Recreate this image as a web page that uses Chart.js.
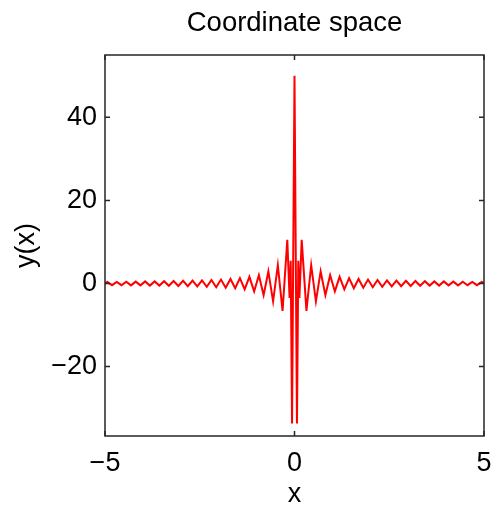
<!DOCTYPE html>
<html>
<head>
<meta charset="utf-8">
<script src="https://cdn.jsdelivr.net/npm/chart.js@4"></script>
<style>
  html, body { margin: 0; padding: 0; background: #fff; }
  #wrap { width: 493px; height: 507px; }
</style>
</head>
<body>
<div id="wrap"><canvas id="chart"></canvas></div>
<script>
// Signal: peaks and troughs, left to right
const xValues = [
  -5.0, -4.94, -4.815, -4.69, -4.565, -4.44, -4.315, -4.19, -4.065, -3.94,
  -3.815, -3.69, -3.565, -3.44, -3.315, -3.19, -3.065, -2.94, -2.815, -2.69,
  -2.565, -2.44, -2.315, -2.19, -2.065, -1.94, -1.815, -1.69, -1.565, -1.44,
  -1.315, -1.19, -1.065, -0.94, -0.815, -0.69, -0.565, -0.44, -0.315, -0.19,
  -0.13, -0.1, -0.065, 0,
  0.065, 0.1, 0.13, 0.19, 0.315, 0.44, 0.565, 0.69, 0.815, 0.94,
  1.065, 1.19, 1.315, 1.44, 1.565, 1.69, 1.815, 1.94, 2.065, 2.19,
  2.315, 2.44, 2.565, 2.69, 2.815, 2.94, 3.065, 3.19, 3.315, 3.44,
  3.565, 3.69, 3.815, 3.94, 4.065, 4.19, 4.315, 4.44, 4.565, 4.69,
  4.815, 4.94, 5.0
];
const yValues = [
  0.1, 0.4, -0.4, 0.4, -0.4, 0.45, -0.45, 0.45, -0.45, 0.5,
  -0.5, 0.5, -0.5, 0.55, -0.55, 0.6, -0.6, 0.65, -0.65, 0.7,
  -0.7, 0.75, -0.8, 0.85, -0.9, 0.95, -1.0, 1.1, -1.15, 1.3,
  -1.4, 1.6, -1.9, 2.0, -2.8, 2.9, -4.3, 4.4, -6.6, 10.5,
  -3.5, 5.5, -33.7, 50,
  -33.7, 5.5, -3.5, 10.5, -6.6, 4.4, -4.3, 2.9, -2.8, 2.0,
  -1.9, 1.6, -1.4, 1.3, -1.15, 1.1, -1.0, 0.95, -0.9, 0.85,
  -0.8, 0.75, -0.7, 0.7, -0.65, 0.65, -0.6, 0.6, -0.55, 0.55,
  -0.5, 0.5, -0.5, 0.5, -0.45, 0.45, -0.45, 0.45, -0.4, 0.4,
  -0.4, 0.4, 0.1
];
const xTicks = [-5, 0, 5];
const yTicks = [-20, 0, 20, 40];

const fontFamily = "'Liberation Sans', Arial, Helvetica, sans-serif";
const textColor = "#000";
const minusSign = (v) => String(v).replace("-", "\u2212");

// MATLAB-style box with inward ticks
const frameTicks = {
  id: "frameTicks",
  afterDraw(chart) {
    const { ctx, chartArea: a, scales } = chart;
    const len = 5;
    ctx.save();
    ctx.strokeStyle = "#262626";
    ctx.lineWidth = 1.5;
    ctx.strokeRect(a.left, a.top, a.right - a.left, a.bottom - a.top);
    ctx.beginPath();
    xTicks.forEach((v) => {
      const px = scales.x.getPixelForValue(v);
      ctx.moveTo(px, a.bottom);
      ctx.lineTo(px, a.bottom - len);
      ctx.moveTo(px, a.top);
      ctx.lineTo(px, a.top + len);
    });
    yTicks.forEach((v) => {
      const py = scales.y.getPixelForValue(v);
      ctx.moveTo(a.left, py);
      ctx.lineTo(a.left + len, py);
      ctx.moveTo(a.right, py);
      ctx.lineTo(a.right - len, py);
    });
    ctx.stroke();
    ctx.restore();
  },
};

const fixPadding = (s) => {
  s.paddingLeft = 0;
  s.paddingRight = 9;
};

const ctx = document.getElementById("chart").getContext("2d");
new Chart(ctx, {
  type: "line",
  data: {
    datasets: [
      {
        data: xValues.map((x, i) => ({ x: x, y: yValues[i] })),
        borderColor: "#ff0000",
        borderWidth: 2,
        pointRadius: 0,
        tension: 0,
        fill: false,
      },
    ],
  },
  options: {
    responsive: true,
    maintainAspectRatio: false,
    animation: false,
    layout: { padding: { left: 0, right: 0, top: 0, bottom: 0 } },
    plugins: {
      legend: { display: false },
      tooltip: { enabled: false },
    },
    scales: {
      x: {
        type: "linear",
        min: -5,
        max: 5,
        afterBuildTicks: (s) => { s.ticks = xTicks.map((v) => ({ value: v })); },
        afterFit: (s) => { s.height = 71; fixPadding(s); },
        grid: { display: false, drawTicks: false },
        border: { display: false },
        ticks: {
          padding: 11,
          color: textColor,
          maxRotation: 0,
          font: { family: fontFamily, size: 27 },
          callback: minusSign,
        },
        title: {
          display: true,
          text: "x",
          color: textColor,
          font: { family: fontFamily, size: 27 },
          padding: { top: 0, bottom: -4 },
        },
      },
      // top axis only carries the title, so it centres over the plot box
      x2: {
        type: "linear",
        position: "top",
        min: -5,
        max: 5,
        afterFit: (s) => { s.height = 55; fixPadding(s); },
        grid: { display: false, drawTicks: false },
        border: { display: false },
        ticks: { display: false },
        title: {
          display: true,
          text: "Coordinate space",
          color: textColor,
          font: { family: fontFamily, size: 27.5 },
          padding: { top: 7, bottom: 0 },
        },
      },
      y: {
        type: "linear",
        min: -36.7,
        max: 55,
        afterBuildTicks: (s) => { s.ticks = yTicks.map((v) => ({ value: v })); },
        afterFit: (s) => { s.width = 105; s.paddingTop = 0; s.paddingBottom = 0; },
        grid: { display: false, drawTicks: false },
        border: { display: false },
        ticks: {
          padding: 8,
          color: textColor,
          font: { family: fontFamily, size: 27 },
          callback: minusSign,
        },
        title: {
          display: true,
          text: "y(x)",
          color: textColor,
          font: { family: fontFamily, size: 27 },
          padding: { top: 10, bottom: 0 },
        },
      },
    },
  },
  plugins: [frameTicks],
});
</script>
</body>
</html>
